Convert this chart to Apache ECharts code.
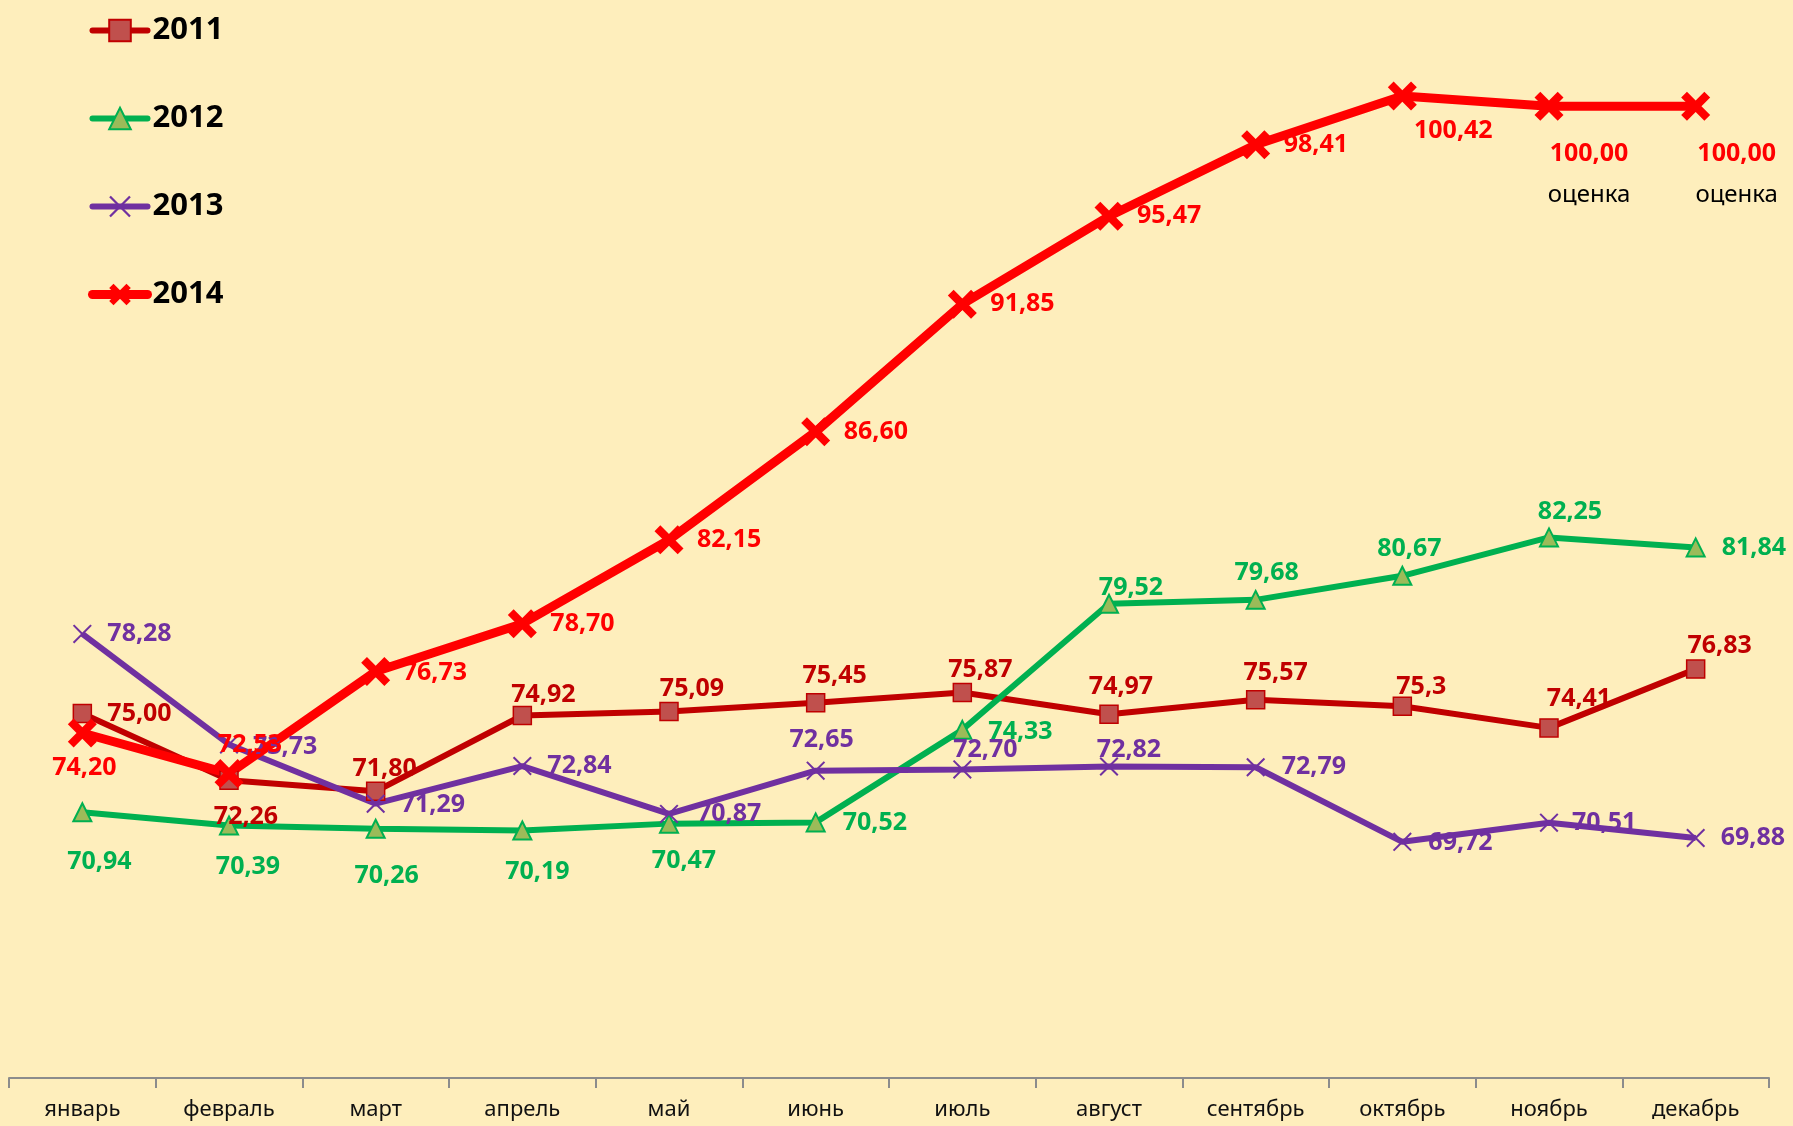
<!DOCTYPE html>
<html>
<head>
<meta charset="utf-8">
<script src="https://cdn.jsdelivr.net/npm/echarts@6/dist/echarts.min.js"></script>
<style>
html,body{margin:0;padding:0;background:#FEEEBC;}
#chart{width:1793px;height:1126px;}
</style>
</head>
<body>
<div id="chart"></div>
<script>
const categories = ['январь','февраль','март','апрель','май','июнь','июль','август','сентябрь','октябрь','ноябрь','декабрь'];
const seriesNames = ['2011','2012','2013','2014'];
const v2011 = [75.00, 72.26, 71.80, 74.92, 75.09, 75.45, 75.87, 74.97, 75.57, 75.3, 74.41, 76.83];
const v2012 = [70.94, 70.39, 70.26, 70.19, 70.47, 70.52, 74.33, 79.52, 79.68, 80.67, 82.25, 81.84];
const v2013 = [78.28, 73.73, 71.29, 72.84, 70.87, 72.65, 72.70, 72.82, 72.79, 69.72, 70.51, 69.88];
const v2014 = [74.20, 72.53, 76.73, 78.70, 82.15, 86.60, 91.85, 95.47, 98.41, 100.42, 100.00, 100.00];
const dec2011 = [2,2,2,2,2,2,2,2,2,1,2,2];
const notes2014 = ['','','','','','','','','','','оценка','оценка'];

// label placement: [align, dx, dy] relative to point
const lp2011 = [['left',25,0],['center',17,37],['center',9,-22],['center',21,-21],['center',23,-23],['center',19,-27],
  ['center',18,-23],['center',12,-27],['center',20,-27],['center',19,-19],['center',30,-29],['center',24,-23]];
const lp2012 = [['center',17,50],['center',19,41],['center',11,47],['center',15,41],['center',15,37],['left',27,0],
  ['left',26,2],['center',22,-16],['center',11,-27],['center',7,-27],['center',21,-26],['left',26,0]];
const lp2013 = [['left',25,0],['left',24,2],['left',25,1],['left',25,0],['left',28,0],['center',6,-31],
  ['center',23,-20],['center',20,-17],['left',26,0],['left',26,1],['left',23,0],['left',25,0]];
const lp2014 = [['center',2,35],['center',21,-29],['left',27,1],['left',28,0],['left',28,0],['left',28,0],
  ['left',28,0],['left',28,0],['left',28,0],['center',51,35],['center',40,68],['center',41,68]];

const FONT = 'Noto Sans';
function fmt(v, d) { return v.toFixed(d).replace('.', ','); }

function buildData(values, places, color, decimals, notes) {
  return values.map((v, i) => {
    const p = places[i];
    const d = decimals ? decimals[i] : 2;
    const note = notes ? notes[i] : '';
    const lab = {
      show: true, position: 'inside', align: p[0], verticalAlign: 'middle', offset: [p[1], p[2]],
      color: color, fontFamily: FONT, fontWeight: 'bold', fontSize: 25,
      formatter: note ? '{v|' + fmt(v, d) + '}\n{o|' + note + '}' : fmt(v, d)
    };
    if (note) {
      lab.rich = {
        v: {color: color, fontFamily: FONT, fontWeight: 'bold', fontSize: 25, lineHeight: 41, align: 'center'},
        o: {color: '#000000', fontFamily: FONT, fontWeight: 'normal', fontSize: 24, lineHeight: 41, align: 'center'}
      };
    }
    return {value: v, label: lab};
  });
}

const thinX = 'path://M0,1.5 L1.5,0 L10,8.5 L18.5,0 L20,1.5 L11.5,10 L20,18.5 L18.5,20 L10,11.5 L1.5,20 L0,18.5 L8.5,10 Z';
const thickX = 'path://M0,4 L4,0 L10,6 L16,0 L20,4 L14,10 L20,16 L16,20 L10,14 L4,20 L0,16 L6,10 Z';

const chart = echarts.init(document.getElementById('chart'), null, {renderer: 'canvas'});
chart.setOption({
  backgroundColor: '#FEEEBC',
  animation: false,
  textStyle: {fontFamily: FONT},
  legend: {
    orient: 'vertical', left: 88, top: 14, padding: 0,
    itemWidth: 55, itemHeight: 27, itemGap: 55,
    textStyle: {fontFamily: FONT, fontWeight: 'bold', fontSize: 31, color: '#000', lineHeight: 33},
    data: [
      {name: '2011', lineStyle: {width: 6, cap: 'round'}},
      {name: '2012', lineStyle: {width: 6, cap: 'round'}},
      {name: '2013', lineStyle: {width: 6, cap: 'round'}},
      {name: '2014', lineStyle: {width: 9, cap: 'round'}}
    ]
  },
  grid: {left: 9, right: 24, top: 9, bottom: 48, containLabel: false},
  xAxis: {
    type: 'category', data: categories, boundaryGap: true,
    axisLine: {lineStyle: {color: '#8C8C8C', width: 2}},
    axisTick: {show: true, length: 10, lineStyle: {color: '#8C8C8C', width: 2}},
    axisLabel: {color: '#111', fontFamily: FONT, fontSize: 22, margin: 21}
  },
  yAxis: {
    type: 'value', min: 60, max: 104, show: false, splitLine: {show: false}
  },
  series: [
    {
      name: '2011', type: 'line', data: buildData(v2011, lp2011, '#C00000', dec2011),
      symbol: 'rect', symbolSize: 18,
      itemStyle: {color: '#C0504D', borderColor: '#C00000', borderWidth: 1.5},
      lineStyle: {color: '#C00000', width: 6}
    },
    {
      name: '2012', type: 'line', data: buildData(v2012, lp2012, '#00B050'),
      symbol: 'triangle', symbolSize: 18,
      itemStyle: {color: '#9BBB59', borderColor: '#00B050', borderWidth: 2},
      lineStyle: {color: '#00B050', width: 6}
    },
    {
      name: '2013', type: 'line', data: buildData(v2013, lp2013, '#7030A0'),
      symbol: thinX, symbolSize: 19,
      itemStyle: {color: '#7030A0'},
      lineStyle: {color: '#7030A0', width: 6}
    },
    {
      name: '2014', type: 'line', data: buildData(v2014, lp2014, '#FF0000', null, notes2014),
      symbol: thickX, symbolSize: 29,
      itemStyle: {color: '#FF0000'},
      lineStyle: {color: '#FF0000', width: 9}
    }
  ]
});
</script>
</body>
</html>
